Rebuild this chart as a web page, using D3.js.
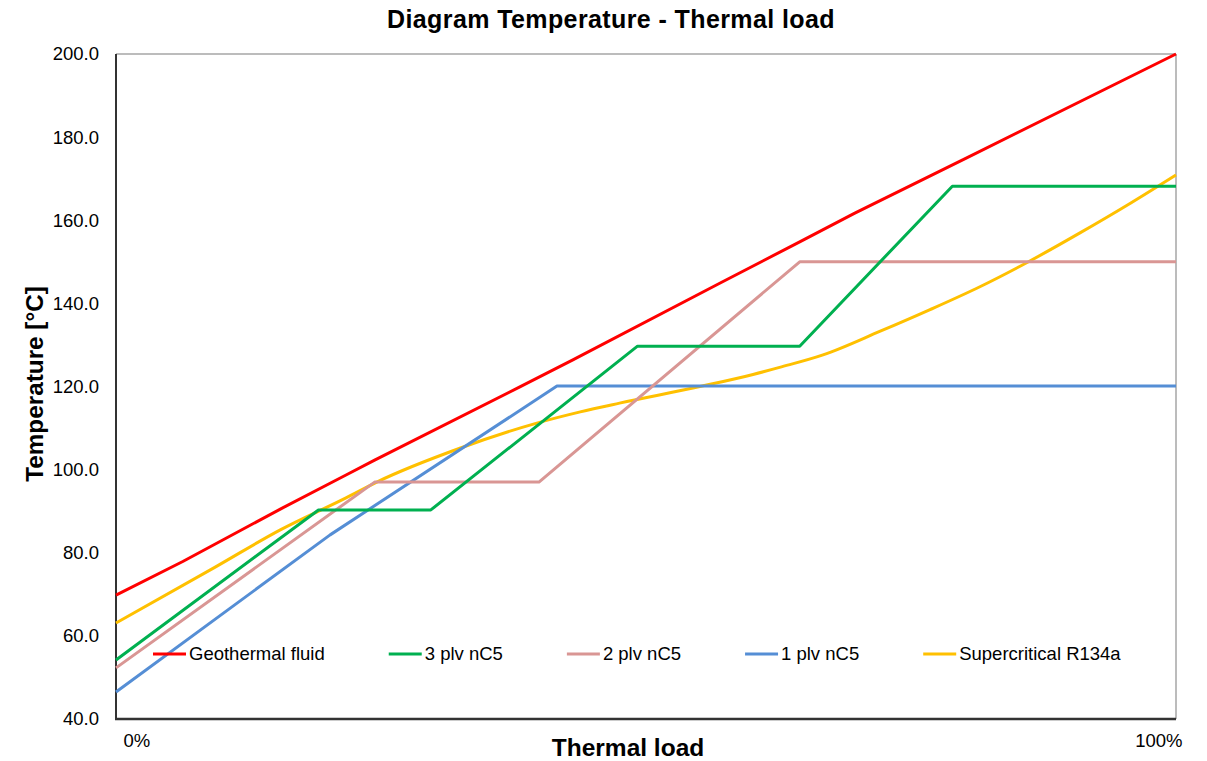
<!DOCTYPE html>
<html>
<head>
<meta charset="utf-8">
<script src="https://cdn.jsdelivr.net/npm/d3@7"></script>
<style>
  html, body { margin: 0; padding: 0; background: #fff; }
  svg { display: block; font-family: "Liberation Sans", Arial, sans-serif; }
</style>
</head>
<body>
<svg id="chart" width="1207" height="761"></svg>
<script>
// Thermal load (% of total) vs. temperature (°C) for each stream
const seriesNames = ["Geothermal fluid", "3 plv nC5", "2 plv nC5", "1 plv nC5", "Supercritical R134a"];
const seriesColors = ["#ff0000", "#00b050", "#d99694", "#558ed5", "#ffc000"];

const geoLoad  = [0, 6.3, 15.5, 21.7, 24.4, 38.1, 43.1, 57.0, 64.5, 69.7, 80.4, 100];
const geoTemp  = [69.8, 77.9, 90.5, 98.7, 102.3, 119.9, 126.4, 144.9, 154.8, 161.7, 175.2, 200];

const plv3Load = [0, 19.1, 29.7, 49.2, 64.5, 78.9, 100];
const plv3Temp = [54.2, 90.3, 90.3, 129.7, 129.7, 168.2, 168.2];

const plv2Load = [0, 24.4, 39.9, 64.5, 100];
const plv2Temp = [52.3, 97.0, 97.0, 150.0, 150.0];

const plv1Load = [0, 20.2, 41.6, 100];
const plv1Temp = [46.5, 84.3, 120.1, 120.1];

const r134Load = [0, 9.4, 15.5, 21.7, 24.6, 32.5, 39.7, 43.8, 47.5, 55.3, 60.1, 62.6, 66.7, 72.1, 76.8, 81.5, 86.0, 90.9, 95.7, 100];
const r134Temp = [63.1, 76.6, 85.5, 93.2, 97.0, 105.2, 111.2, 113.9, 116.0, 120.1, 122.9, 124.6, 127.6, 133.3, 138.5, 144.0, 149.9, 156.9, 164.1, 170.9];

const yTicks = [40, 60, 80, 100, 120, 140, 160, 180, 200];
const xTicks = [0, 100];

const chartTitle = "Diagram Temperature - Thermal load";
const xTitle = "Thermal load";
const yTitle = "Temperature [°C]";

// Build point lists from the arrays above
const zip = (xs, ys) => xs.map((v, i) => ({ load: v, temp: ys[i] }));
const series = [
  { name: seriesNames[0], color: seriesColors[0], pts: zip(geoLoad, geoTemp), smooth: false },
  { name: seriesNames[1], color: seriesColors[1], pts: zip(plv3Load, plv3Temp), smooth: false },
  { name: seriesNames[2], color: seriesColors[2], pts: zip(plv2Load, plv2Temp), smooth: false },
  { name: seriesNames[3], color: seriesColors[3], pts: zip(plv1Load, plv1Temp), smooth: false },
  { name: seriesNames[4], color: seriesColors[4], pts: zip(r134Load, r134Temp), smooth: true }
];

const svg = d3.select("#chart");
const plot = { left: 116, right: 1176, top: 54, bottom: 719 };

const x = d3.scaleLinear().domain([0, 100]).range([plot.left, plot.right]);
const y = d3.scaleLinear().domain([40, 200]).range([plot.bottom, plot.top]);

// Title
svg.append("text")
  .attr("x", 611).attr("y", 28)
  .attr("text-anchor", "middle")
  .attr("font-size", 25).attr("font-weight", "bold")
  .attr("letter-spacing", 0.4)
  .attr("fill", "#000")
  .text(chartTitle);

// Y axis labels
const yAxis = svg.append("g")
  .attr("transform", `translate(${plot.left},0)`)
  .call(d3.axisLeft(y).tickValues(yTicks).tickSize(0).tickPadding(17).tickFormat(d3.format(".1f")));
yAxis.select(".domain").remove();
yAxis.selectAll("text").attr("font-size", 18.5).attr("fill", "#000")
  .attr("font-family", "Liberation Sans, Arial, sans-serif");

// X axis labels (only the end points are labelled)
const xAxis = svg.append("g")
  .attr("transform", `translate(0,${plot.bottom})`)
  .call(d3.axisBottom(x).tickValues(xTicks).tickSize(0).tickPadding(15).tickFormat(d => d + "%"));
xAxis.select(".domain").remove();
xAxis.selectAll("text").attr("font-size", 18.5).attr("fill", "#000")
  .attr("font-family", "Liberation Sans, Arial, sans-serif")
  .attr("text-anchor", d => d === 0 ? "start" : "end")
  .attr("dx", d => d === 0 ? 7 : 6);

// Plot frame: dark left/bottom axes, light top/right edges
svg.append("line").attr("x1", plot.left).attr("x2", plot.right).attr("y1", plot.top).attr("y2", plot.top)
  .attr("stroke", "#a6a6a6").attr("stroke-width", 1.5);
svg.append("line").attr("x1", plot.right).attr("x2", plot.right).attr("y1", plot.top).attr("y2", plot.bottom)
  .attr("stroke", "#a6a6a6").attr("stroke-width", 1.5);
svg.append("line").attr("x1", plot.left).attr("x2", plot.left).attr("y1", plot.top).attr("y2", plot.bottom + 1)
  .attr("stroke", "#333").attr("stroke-width", 2);
svg.append("line").attr("x1", plot.left - 1).attr("x2", plot.right).attr("y1", plot.bottom).attr("y2", plot.bottom)
  .attr("stroke", "#333").attr("stroke-width", 2.5);

// Series lines (drawn last-to-first so the geothermal fluid sits on top)
const lineLinear = d3.line().x(d => x(d.load)).y(d => y(d.temp));
const lineSmooth = d3.line().x(d => x(d.load)).y(d => y(d.temp)).curve(d3.curveMonotoneX);

svg.append("g").selectAll("path")
  .data(series.slice().reverse())
  .join("path")
  .attr("d", s => (s.smooth ? lineSmooth : lineLinear)(s.pts))
  .attr("fill", "none")
  .attr("stroke", s => s.color)
  .attr("stroke-width", 3)
  .attr("stroke-linejoin", "round");

// Legend inside the plot, one row
const legend = svg.append("g").attr("transform", "translate(153,654)");
let cursor = 0;
series.forEach(s => {
  const item = legend.append("g").attr("transform", `translate(${cursor},0)`);
  item.append("line").attr("x1", 0).attr("x2", 33).attr("y1", 0).attr("y2", 0)
    .attr("stroke", s.color).attr("stroke-width", 3);
  const t = item.append("text").attr("x", 36).attr("y", 6)
    .attr("font-size", 18.5).attr("fill", "#000").text(s.name);
  cursor += 36 + t.node().getComputedTextLength() + 64;
});

// Axis titles
svg.append("text")
  .attr("x", 628).attr("y", 756)
  .attr("text-anchor", "middle")
  .attr("font-size", 24.5).attr("font-weight", "bold").attr("fill", "#000")
  .text(xTitle);

svg.append("text")
  .attr("transform", "translate(43,384) rotate(-90)")
  .attr("text-anchor", "middle")
  .attr("font-size", 24.3).attr("font-weight", "bold").attr("fill", "#000")
  .text(yTitle);
</script>
</body>
</html>
